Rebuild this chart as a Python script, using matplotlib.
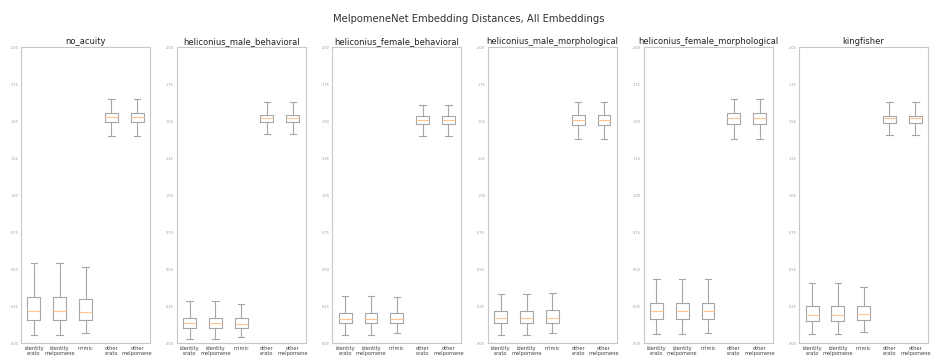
import numpy as np
from matplotlib import pyplot as plt

titles = ["no_acuity", "heliconius_male_behavioral", "heliconius_female_behavioral",
          "heliconius_male_morphological", "heliconius_female_morphological", "kingfisher"]
categories = ["identity\nerato", "identity\nmelpomene", "mimic", "other\nerato", "other\nmelpomene"]

# five-number summaries, one row per embedding, one column per category
whislo = [[0.054, 0.054, 0.068, 1.40, 1.40],
          [0.027, 0.027, 0.041, 1.41, 1.41],
          [0.054, 0.054, 0.068, 1.40, 1.40],
          [0.054, 0.054, 0.068, 1.38, 1.38],
          [0.061, 0.061, 0.068, 1.38, 1.38],
          [0.061, 0.061, 0.074, 1.405, 1.405]]
q1 = [[0.155, 0.155, 0.155, 1.49, 1.49],
      [0.101, 0.101, 0.101, 1.49, 1.49],
      [0.135, 0.135, 0.135, 1.48, 1.48],
      [0.135, 0.135, 0.135, 1.47, 1.47],
      [0.162, 0.162, 0.162, 1.48, 1.48],
      [0.149, 0.149, 0.155, 1.486, 1.486]]
med = [[0.216, 0.216, 0.209, 1.527, 1.527],
       [0.135, 0.135, 0.128, 1.52, 1.52],
       [0.162, 0.162, 0.162, 1.507, 1.507],
       [0.169, 0.169, 0.169, 1.507, 1.507],
       [0.216, 0.216, 0.216, 1.52, 1.52],
       [0.189, 0.189, 0.196, 1.52, 1.52]]
q3 = [[0.311, 0.311, 0.297, 1.555, 1.555],
      [0.169, 0.169, 0.169, 1.54, 1.54],
      [0.203, 0.203, 0.203, 1.534, 1.534],
      [0.216, 0.216, 0.223, 1.54, 1.54],
      [0.27, 0.27, 0.27, 1.555, 1.555],
      [0.25, 0.25, 0.25, 1.534, 1.534]]
whishi = [[0.54, 0.54, 0.514, 1.65, 1.65],
          [0.284, 0.284, 0.264, 1.63, 1.63],
          [0.318, 0.318, 0.311, 1.61, 1.61],
          [0.331, 0.331, 0.338, 1.63, 1.63],
          [0.43, 0.43, 0.43, 1.65, 1.65],
          [0.405, 0.405, 0.378, 1.63, 1.63]]
yticks = [0.0, 0.25, 0.5, 0.75, 1.0, 1.25, 1.5, 1.75, 2.0]

fig = plt.figure(figsize=(9.37, 3.6), dpi=100)
fig.suptitle("MelpomeneNet Embedding Distances, All Embeddings", fontsize=7.2, y=0.962, color="#333333")

box_col = "#a6a6a6"
med_col = "#ffc48f"
spine_col = "#c8c8c8"

for i in range(len(titles)):
    ax = fig.add_axes([0.0224 + i * 0.1661, 0.0472, 0.1377, 0.8222])
    stats = []
    for j in range(len(categories)):
        stats.append({"whislo": whislo[i][j], "q1": q1[i][j], "med": med[i][j],
                      "q3": q3[i][j], "whishi": whishi[i][j], "fliers": []})
    ax.bxp(stats, showfliers=False, widths=0.5,
           boxprops=dict(color=box_col, linewidth=0.8),
           whiskerprops=dict(color=box_col, linewidth=0.8),
           capprops=dict(color=box_col, linewidth=0.8),
           medianprops=dict(color=med_col, linewidth=0.8))
    ax.set_xlim(0.5, 5.5)
    ax.set_ylim(0, 2)
    ax.set_yticks(yticks)
    ax.set_yticklabels([f"{t:.2f}" for t in yticks])
    ax.set_xticks(range(1, 6))
    ax.set_xticklabels(categories, fontsize=3.7, color="#444444", linespacing=1.0,
                       multialignment="center")
    ax.tick_params(axis="y", labelsize=2.5, labelcolor="#999999", length=0, pad=2)
    ax.tick_params(axis="x", length=0, pad=2)
    for s in ax.spines.values():
        s.set_color(spine_col)
        s.set_linewidth(0.8)
    ax.set_title(titles[i], fontsize=6, pad=2, color="#222222")

fig.savefig("out.png", dpi=100)
